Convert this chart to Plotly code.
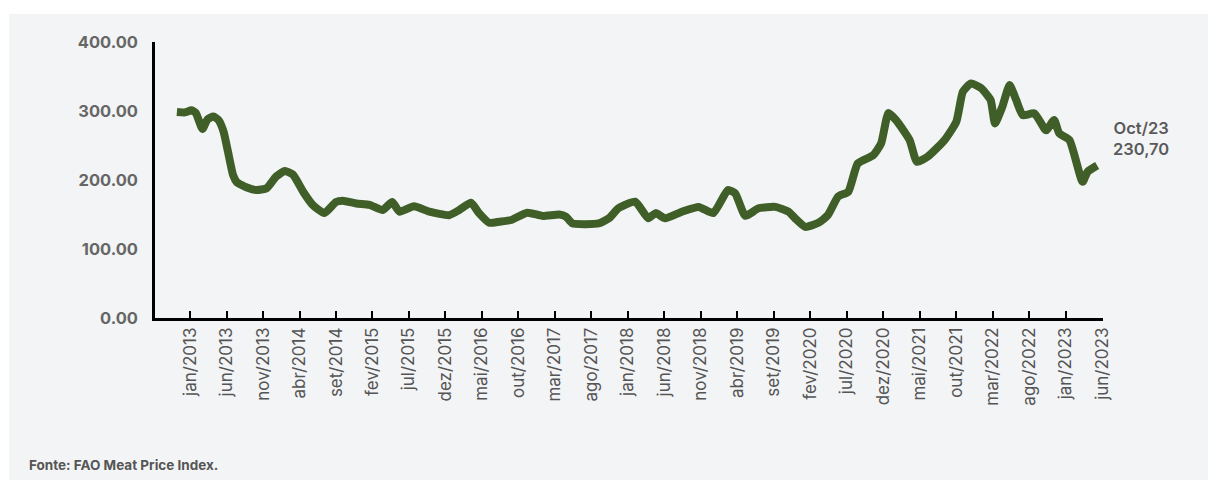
import plotly.graph_objects as go

# month offset from jan/2013 (fractional) and index value
months = [-1.8, -0.7, 0.2, 0.8, 1.7, 2.4, 3.2, 3.9, 4.6, 5.2, 5.9, 6.4, 7.8, 9.1, 10.5,
          11.8, 13.0, 14.1, 15.5, 16.8, 18.4, 20.0, 20.9, 22.8, 24.6, 26.4, 27.7, 28.7,
          30.7, 32.8, 35.5, 36.9, 38.5, 39.6, 41.0, 42.4, 44.0, 46.2, 48.3, 50.6, 51.5,
          52.4, 54.2, 56.0, 57.4, 58.7, 61.0, 62.8, 63.8, 65.1, 67.4, 69.7, 71.7, 73.7,
          74.7, 76.1, 77.9, 80.2, 82.0, 82.9, 84.3, 86.1, 87.4, 88.8, 90.2, 91.5, 93.6,
          94.7, 95.7, 96.8, 98.6, 99.6, 101.1, 103.4, 105.0, 105.9, 107.0, 108.4, 109.7,
          110.3, 111.3, 112.3, 113.2, 114.1, 115.7, 117.3, 118.4, 119.1, 120.5, 122.3,
          123.0, 124.3]
values = [298.6, 298, 301, 297, 274, 288, 292, 287, 270, 241, 207, 197, 189, 185.5, 188,
          205, 213, 208, 183, 164, 152, 168, 170, 166, 164, 156.5, 168, 154,
          162, 154, 149, 156.5, 167, 152, 138, 139.6, 142, 152.6, 148, 150, 147,
          137, 136, 137, 144.5, 159, 168.6, 144.5, 152, 144.5, 154, 161, 152, 185.5,
          180.7, 148, 159, 161, 154, 144.5, 132, 138, 149, 176, 183, 224, 236,
          253, 297, 286, 258, 226.5, 234, 258, 284.5, 328, 340, 333, 316,
          282, 306, 337.7, 316, 294, 296.6, 272, 287, 267.7, 258, 197.5,
          212, 221]

tick_months = list(range(0, 126, 5))
tick_labels = ["jan/2013", "jun/2013", "nov/2013", "abr/2014", "set/2014", "fev/2015",
               "jul/2015", "dez/2015", "mai/2016", "out/2016", "mar/2017", "ago/2017",
               "jan/2018", "jun/2018", "nov/2018", "abr/2019", "set/2019", "fev/2020",
               "jul/2020", "dez/2020", "mai/2021", "out/2021", "mar/2022", "ago/2022",
               "jan/2023", "jun/2023"]
y_ticks = [0, 100, 200, 300, 400]
y_labels = ["0.00", "100.00", "200.00", "300.00", "400.00"]
last_label = "Oct/23<br>230,70"
source = "Fonte: FAO Meat Price Index."

FONT = "Inter, 'Open Sans', sans-serif"

fig = go.Figure()
fig.add_trace(go.Scatter(
    x=months, y=values, mode="lines",
    line=dict(color="#405e27", width=8, shape="spline", smoothing=0.5),
    hoverinfo="skip", showlegend=False,
))

W, H = 1208, 480
L, T = 155, 42
R = W - 1103
B = H - 318
pw, ph = W - L - R, H - T - B

def px_x(x):
    return (x - L) / pw

def px_y(y):
    return (H - B - y) / ph

fig.add_annotation(xref="paper", yref="paper", x=px_x(1141), y=px_y(138),
                   text=last_label, showarrow=False, xanchor="center", yanchor="middle",
                   font=dict(family=FONT, size=16.5, color="#5a5a5a", weight=600))
fig.add_annotation(xref="paper", yref="paper", x=px_x(27), y=px_y(465),
                   text=source, showarrow=False, xanchor="left", yanchor="middle",
                   font=dict(family=FONT, size=13.5, color="#555555", weight=700))

fig.update_layout(
    width=W, height=H,
    margin=dict(l=L, r=R, t=T, b=B),
    paper_bgcolor="#f3f4f6", plot_bgcolor="rgba(0,0,0,0)",
    font=dict(family=FONT),
    xaxis=dict(range=[-4.8, 125.1], tickmode="array", tickvals=tick_months,
               ticktext=tick_labels, tickangle=-90, ticks="inside", ticklen=7,
               tickwidth=2, tickcolor="black", showline=True, linecolor="black",
               linewidth=2.5, showgrid=False, zeroline=False,
               tickfont=dict(family=FONT, size=17, color="#555555")),
    yaxis=dict(range=[0, 400], tickmode="array", tickvals=y_ticks, ticktext=y_labels,
               showline=True, linecolor="black", linewidth=2.5, showgrid=False,
               zeroline=False, ticks="", ticklabelstandoff=11,
               tickfont=dict(family=FONT, size=16.5, color="#666666", weight=700)),
)
# white bands at the top and left edge of the page, outside the grey panel
fig.add_shape(type="rect", xref="paper", yref="paper",
              x0=px_x(-5), x1=px_x(1215), y0=px_y(14), y1=px_y(-5),
              fillcolor="white", line=dict(width=0), layer="below")
fig.add_shape(type="rect", xref="paper", yref="paper",
              x0=px_x(-5), x1=px_x(9), y0=px_y(485), y1=px_y(-5),
              fillcolor="white", line=dict(width=0), layer="below")

fig.write_html("out.html", config={"displayModeBar": False},
               post_script="document.body.style.margin='0';document.body.style.overflow='hidden';")
